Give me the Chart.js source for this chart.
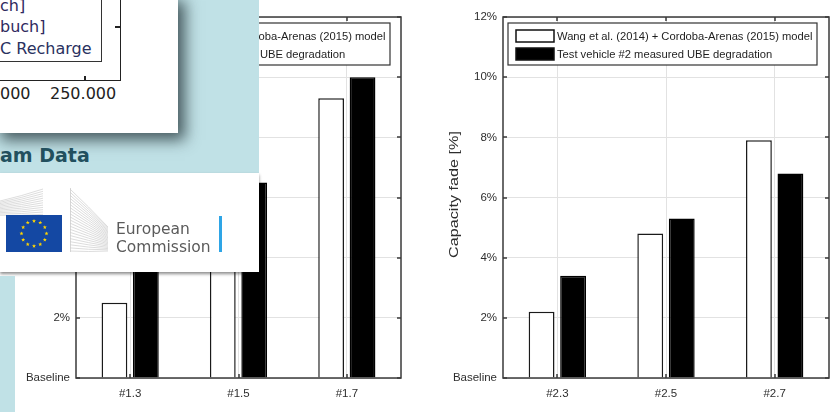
<!DOCTYPE html>
<html><head><meta charset="utf-8">
<script src="https://cdn.jsdelivr.net/npm/chart.js@4/dist/chart.umd.min.js"></script>
<style>
html,body{margin:0;padding:0;width:833px;height:412px;overflow:hidden;background:#fff;font-family:"Liberation Sans",Arial,sans-serif;}
.abs{position:absolute;}
canvas{display:block;}
</style></head><body>
<div class="abs" style="left:0;top:0;width:420px;height:412px"><canvas id="c1" width="420" height="412"></canvas></div>
<div class="abs" style="left:420px;top:0;width:413px;height:412px"><canvas id="c2" width="413" height="412"></canvas></div>

<!-- slide overlay -->
<div class="abs" style="left:0;top:0;width:259px;height:173px;background:#c0e1e6"></div>
<div class="abs" style="left:0;top:0;width:178px;height:133px;background:#fff;box-shadow:4px 4px 14px 3px rgba(30,45,50,0.75)">
  <div class="abs" style="left:0;top:0;width:101px;height:61px;border-right:1.5px solid #333;border-bottom:1.5px solid #333"></div>
  <div class="abs" style="left:0;top:0;width:120px;height:80px;border-right:1.5px solid #222;border-bottom:1.5px solid #222"></div>
  <div class="abs" style="left:84px;top:76px;width:1.5px;height:5px;background:#222"></div>
  <div class="abs" style="left:115px;top:26px;width:5px;height:1.5px;background:#222"></div>
  <div class="abs" style="left:0;top:-4px;font:16px 'DejaVu Sans';line-height:19px;color:#2f2a5e">ch]</div>
  <div class="abs" style="left:0;top:17px;font:16px 'DejaVu Sans';line-height:19px;color:#2f2a5e">buch]</div>
  <div class="abs" style="left:0;top:39px;font:16px 'DejaVu Sans';line-height:19px;color:#2a3160">C Recharge</div>
  <div class="abs" style="left:0;top:84px;font:16px 'DejaVu Sans';line-height:19px;color:#222">000</div>
  <div class="abs" style="left:50px;top:84px;font:16px 'DejaVu Sans';line-height:19px;color:#222">250.000</div>
</div>
<div class="abs" style="left:0;top:146px;font:bold 19px 'DejaVu Sans';line-height:19px;color:#22505e">am Data</div>
<div class="abs" style="left:0;top:173px;width:259px;height:99px;background:#fff;box-shadow:0 2px 3px rgba(0,0,0,0.45)"></div>
<svg class="abs" id="logo" style="left:0;top:173px" width="259" height="99" viewBox="0 173 259 99"></svg>
<div class="abs" style="left:116px;top:220px;font:15.5px 'DejaVu Sans';line-height:18px;color:#5b5b5b">European</div>
<div class="abs" style="left:116px;top:238px;font:15.5px 'DejaVu Sans';line-height:18px;color:#5b5b5b">Commission</div>
<div class="abs" style="left:219px;top:216px;width:2.5px;height:36px;background:#2ea5e6"></div>
<div class="abs" style="left:0;top:276px;width:15px;height:136px;background:#c0e1e6"></div>

<script>
// ---- data ----
const categoriesLeft = ['#1.3', '#1.5', '#1.7'];
const categoriesRight = ['#2.3', '#2.5', '#2.7'];
const modelLeft = [2.5, 5.6, 9.3];
const measuredLeft = [4.0, 6.5, 10.0];
const modelRight = [2.2, 4.8, 7.9];
const measuredRight = [3.4, 5.3, 6.8];
const yTickValues = [0, 2, 4, 6, 8, 10, 12];
const yTickLabels = ['Baseline', '2%', '4%', '6%', '8%', '10%', '12%'];
const modelLabel = 'Wang et al. (2014) + Cordoba-Arenas (2015) model';
const measuredLabelLeft = 'Test vehicle #1 measured UBE degradation';
const measuredLabelRight = 'Test vehicle #2 measured UBE degradation';
const yTitle = 'Capacity fade [%]';

// ---- decorative logo ----
(function(){
  const svg = document.getElementById('logo');
  let h = '';
  for (let i = 0; i < 12; i++) {
    h += `<path d="M0 ${201+i*1.3} Q22 ${196+i*1.8} 43 ${189+i*2.3}" stroke="#cfcfcf" stroke-width="0.7" fill="none"/>`;
  }
  for (let i = 0; i < 21; i++) {
    h += `<path d="M70 ${189+i*3.1} Q88 ${206+i*2.3} 108 ${227+i*1.2}" stroke="#cdcdcd" stroke-width="0.7" fill="none"/>`;
  }
  h += '<line x1="70.5" y1="188" x2="70.5" y2="252" stroke="#cdcdcd" stroke-width="0.8"/>';
  h += '<rect x="6" y="215" width="56" height="37" fill="#1448a3"/>';
  for (let k = 0; k < 12; k++) {
    const a = k * Math.PI / 6;
    const cx = 34 + 12.5 * Math.cos(a), cy = 233.5 + 12.5 * Math.sin(a);
    let pts = [];
    for (let j = 0; j < 10; j++) {
      const r = j % 2 ? 0.9 : 2.1, b = -Math.PI / 2 + j * Math.PI / 5;
      pts.push((cx + r * Math.cos(b)).toFixed(2) + ',' + (cy + r * Math.sin(b)).toFixed(2));
    }
    h += `<polygon points="${pts.join(' ')}" fill="#ffd500"/>`;
  }
  svg.innerHTML = h;
})();

// ---- chart helpers ----
const FONT = "'Liberation Sans', Arial, sans-serif";
const TXT = '#2e2e2e';

const matlabPlugin = {
  id: 'matlabPlugin',
  afterDatasetsDraw(chart) {
    const {ctx, chartArea: a, scales: {x, y}} = chart;
    ctx.save();
    ctx.strokeStyle = '#3a3a3a';
    ctx.lineWidth = 1.5;
    ctx.strokeRect(a.left, a.top, a.right - a.left, a.bottom - a.top);
    ctx.beginPath();
    y.ticks.forEach(t => {
      const py = Math.round(y.getPixelForValue(t.value));
      ctx.moveTo(a.left, py); ctx.lineTo(a.left + 4, py);
      ctx.moveTo(a.right, py); ctx.lineTo(a.right - 4, py);
    });
    x.ticks.forEach((t, i) => {
      const px = Math.round(x.getPixelForTick(i));
      ctx.moveTo(px, a.bottom); ctx.lineTo(px, a.bottom - 4);
      ctx.moveTo(px, a.top); ctx.lineTo(px, a.top + 4);
    });
    ctx.stroke();

    // legend box inside plot
    const lx = a.left + 5, ly = a.top + 6, lw = 309, lh = 42;
    ctx.fillStyle = '#fff';
    ctx.fillRect(lx, ly, lw, lh);
    ctx.lineWidth = 1.2;
    ctx.strokeStyle = '#333';
    ctx.strokeRect(lx, ly, lw, lh);
    ctx.font = '11.2px ' + FONT;
    ctx.textBaseline = 'middle';
    ctx.textAlign = 'left';
    chart.data.datasets.forEach((ds, i) => {
      const sy = ly + 7 + i * 18;
      ctx.fillStyle = ds.backgroundColor;
      ctx.fillRect(lx + 8, sy, 38, 12);
      ctx.lineWidth = 1.5;
      ctx.strokeStyle = '#111';
      ctx.strokeRect(lx + 8, sy, 38, 12);
      ctx.fillStyle = '#1e1e1e';
      ctx.fillText(ds.label, lx + 49, sy + 6.5);
    });

    // y axis title (stretched like the source)
    ctx.save();
    ctx.translate(a.left - 48, (a.top + a.bottom) / 2 - 3);
    ctx.rotate(-Math.PI / 2);
    ctx.scale(1.35, 1);
    ctx.font = '12px ' + FONT;
    ctx.fillStyle = TXT;
    ctx.textAlign = 'center';
    ctx.textBaseline = 'middle';
    ctx.fillText(yTitle, 0, 0);
    ctx.restore();
    ctx.restore();
  }
};

function makeChart(id, cats, model, measured, measuredLabel, plotLeft, padRight) {
  return new Chart(document.getElementById(id), {
    type: 'bar',
    data: {
      labels: cats,
      datasets: [
        {label: modelLabel, data: model, backgroundColor: '#ffffff', borderColor: '#1a1a1a', borderWidth: 1.5,
         categoryPercentage: 0.58, barPercentage: 0.82},
        {label: measuredLabel, data: measured, backgroundColor: '#000000', borderColor: '#000000', borderWidth: 1.5,
         categoryPercentage: 0.58, barPercentage: 0.82}
      ]
    },
    options: {
      responsive: false,
      animation: false,
      events: [],
      layout: {padding: {top: 17, right: padRight, bottom: 0, left: 0}},
      plugins: {legend: {display: false}, tooltip: {enabled: false}},
      scales: {
        x: {
          grid: {offset: false, color: '#e2e2e2', drawTicks: false},
          border: {display: false},
          ticks: {font: {size: 11.5, family: FONT}, color: TXT, padding: 9},
          afterFit: s => { s.height = 34; }
        },
        y: {
          min: 0, max: 12,
          afterBuildTicks: s => { s.ticks = yTickValues.map(v => ({value: v})); },
          grid: {color: '#e2e2e2', drawTicks: false},
          border: {display: false},
          ticks: {font: {size: 11.5, family: FONT}, color: TXT, padding: 6,
                  callback: v => yTickLabels[yTickValues.indexOf(v)]},
          afterFit: s => { s.width = plotLeft; }
        }
      }
    },
    plugins: [matlabPlugin]
  });
}

makeChart('c1', categoriesLeft, modelLeft, measuredLeft, measuredLabelLeft, 76, 19);
makeChart('c2', categoriesRight, modelRight, measuredRight, measuredLabelRight, 83, 4);
</script>
</body></html>
